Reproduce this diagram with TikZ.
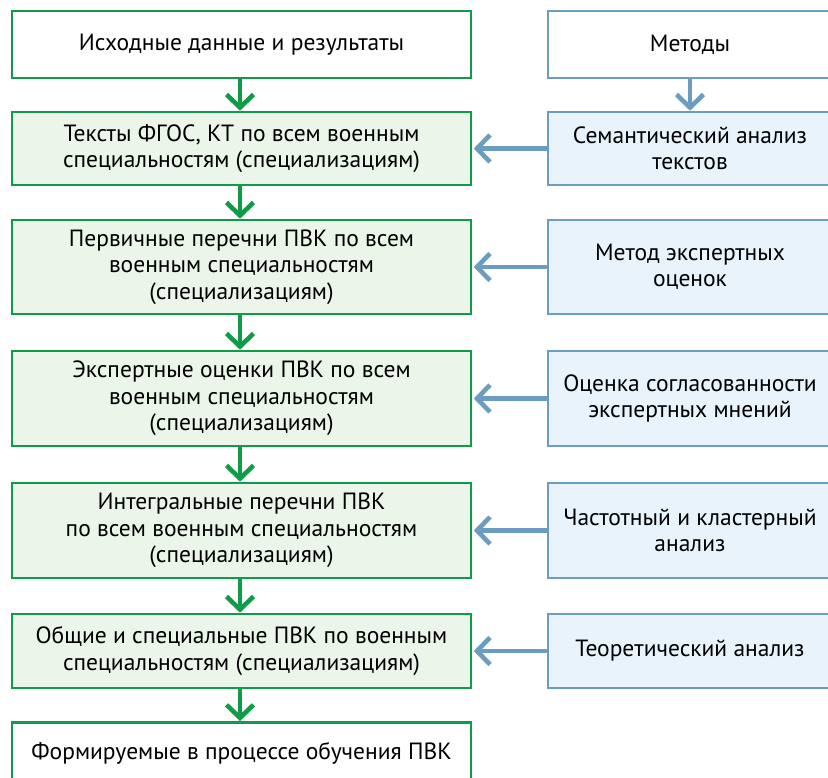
\documentclass[tikz,border=0pt]{standalone}
\usepackage{fontspec}
\setmainfont{PT Sans}
\usetikzlibrary{arrows.meta}
\definecolor{flowgreen}{HTML}{0F9C48}
\definecolor{flowgreenfill}{HTML}{EBF5EA}
\definecolor{methblue}{HTML}{6A9DBF}
\definecolor{methbluefill}{HTML}{E8F3FC}
\begin{document}
\begin{tikzpicture}[x=1pt,y=-1pt,
  base/.style={draw, line width=2.6pt, align=center, inner sep=0pt,
    font=\fontsize{23.5}{26.5}\selectfont, text=black},
  leftbox/.style={base, draw=flowgreen, minimum width=459pt},
  leftfill/.style={leftbox, fill=flowgreenfill},
  rightbox/.style={base, draw=methblue, minimum width=284pt},
  rightfill/.style={rightbox, fill=methbluefill},
  garrow/.style={draw=flowgreen, line width=4.6pt,
    -{Straight Barb[length=13pt,width=27pt]}},
  barrow/.style={draw=methblue, line width=4.6pt,
    -{Straight Barb[length=13pt,width=27pt]}}
]
\clip (0,0) rectangle (828,778);
\fill[white] (0,0) rectangle (828,778);

% main flow (left column)
\node[leftbox,  minimum height=67pt] (l1) at (241.5,44.5) {Исходные данные и результаты};
\node[leftfill, minimum height=73pt] (l2) at (241.5,148.5) {Тексты ФГОС, КТ по всем военным\\специальностям (специализациям)};
\node[leftfill, minimum height=94pt] (l3) at (241.5,267) {Первичные перечни ПВК по всем\\военным специальностям\\(специализациям)};
\node[leftfill, minimum height=95pt] (l4) at (241.5,398.5) {Экспертные оценки ПВК по всем\\военным специальностям\\(специализациям)};
\node[leftfill, minimum height=95pt] (l5) at (241.5,530.5) {Интегральные перечни ПВК\\по всем военным специальностям\\(специализациям)};
\node[leftfill, minimum height=74pt] (l6) at (241.5,651) {Общие и специальные ПВК по военным\\специальностям (специализациям)};
\node[leftbox,  minimum height=66pt, anchor=north] (l7) at (241.5,721) {\rule{0pt}{0pt}};
\node[font=\fontsize{23.5}{26.5}\selectfont, text=black] (l7t) at (241.5,753) {Формируемые в процессе обучения ПВК};

% methods (right column)
\node[rightbox,  minimum height=67pt] (r1) at (690,44.5) {Методы};
\node[rightfill, minimum height=73pt] (r2) at (690,148.5) {Семантический анализ\\текстов};
\node[rightfill, minimum height=94pt] (r3) at (690,267) {Метод экспертных\\оценок};
\node[rightfill, minimum height=95pt] (r4) at (690,398.5) {Оценка согласованности\\экспертных мнений};
\node[rightfill, minimum height=95pt] (r5) at (690,530.5) {Частотный и кластерный\\анализ};
\node[rightfill, minimum height=74pt] (r6) at (690,651) {Теоретический анализ};

% vertical flow arrows
\foreach \a/\b in {l1/l2,l2/l3,l3/l4,l4/l5,l5/l6,l6/l7}
  \draw[garrow] ([xshift=-1.5pt]\a.south) -- ([xshift=-1.5pt]\b.north);
\draw[barrow] (r1.south) -- (r2.north);

% method-to-step arrows
\foreach \i in {2,...,6}
  \draw[barrow] (r\i.west) -- ([xshift=1.5pt]l\i.east);
\end{tikzpicture}
\end{document}
